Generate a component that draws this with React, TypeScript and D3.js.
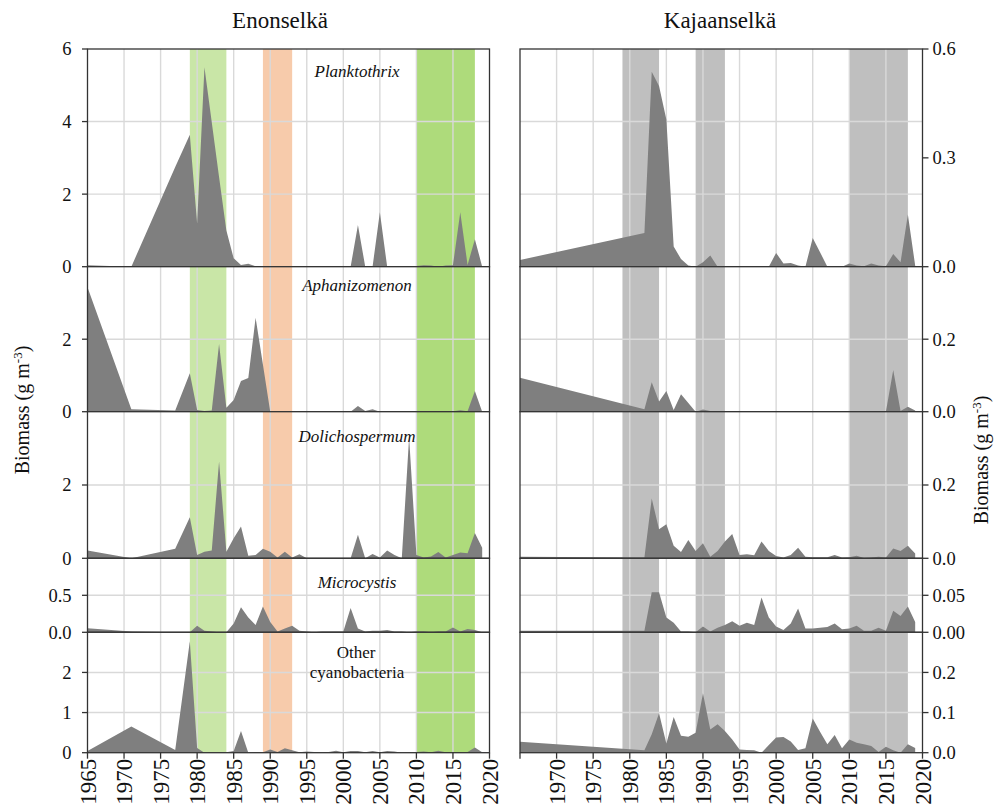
import React from "react";
import * as d3 from "d3";

// ---------- DATA ----------
const yearsEno = [1965, 1971, 1977, 1979, 1980, 1981, 1982, 1983, 1984, 1985, 1986, 1987, 1988, 1989, 1990, 1991, 1992, 1993, 1994, 1995, 1996, 1997, 1998, 1999, 2000, 2001, 2002, 2003, 2004, 2005, 2006, 2007, 2008, 2009, 2010, 2011, 2012, 2013, 2014, 2015, 2016, 2017, 2018, 2019];
const yearsKaj = [1965, 1982, 1983, 1984, 1985, 1986, 1987, 1988, 1989, 1990, 1991, 1992, 1993, 1994, 1995, 1996, 1997, 1998, 1999, 2000, 2001, 2002, 2003, 2004, 2005, 2006, 2007, 2008, 2009, 2010, 2011, 2012, 2013, 2014, 2015, 2016, 2017, 2018, 2019];

const enoPlanktothrix = [0.04, 0, 2.75, 3.64, 1.19, 5.5, 3.98, 2.47, 1.0, 0.23, 0.05, 0.08, 0.01, 0, 0.02, 0.01, 0.02, 0, 0, 0, 0, 0, 0, 0, 0, 0, 1.15, 0, 0, 1.5, 0, 0, 0.02, 0.01, 0.02, 0.04, 0.03, 0, 0.03, 0.04, 1.5, 0.05, 0.76, 0];
const enoAphanizomenon = [3.43, 0.07, 0.03, 1.06, 0.05, 0.02, 0.03, 1.87, 0.11, 0.32, 0.85, 0.93, 2.59, 1.3, 0, 0, 0, 0, 0, 0, 0, 0, 0, 0, 0, 0, 0.16, 0.02, 0.07, 0, 0, 0, 0, 0, 0, 0, 0, 0.01, 0.02, 0.01, 0.04, 0.01, 0.57, 0];
const enoDolichospermum = [0.21, 0, 0.26, 1.12, 0.09, 0.18, 0.21, 2.64, 0.18, 0.55, 0.87, 0.07, 0.09, 0.26, 0.18, 0.02, 0.18, 0.02, 0.11, 0, 0, 0.01, 0.01, 0, 0, 0, 0.64, 0, 0.12, 0.02, 0.21, 0.09, 0, 3.3, 0.09, 0.02, 0.05, 0.17, 0.02, 0.09, 0.16, 0.14, 0.69, 0.29];
const enoMicrocystis = [0.055, 0.01, 0, 0, 0.09, 0.02, 0.01, 0, 0, 0.12, 0.34, 0.2, 0.1, 0.35, 0.14, 0.01, 0.05, 0.09, 0.02, 0.01, 0, 0.01, 0.01, 0.01, 0.01, 0.33, 0.05, 0.01, 0.02, 0.02, 0.03, 0.01, 0.01, 0, 0.01, 0.01, 0, 0.01, 0.01, 0.065, 0.01, 0.045, 0.03, 0];
const enoOther = [0.04, 0.65, 0.07, 2.78, 0.12, 0, 0.01, 0.01, 0.01, 0.04, 0.54, 0, 0.02, 0.01, 0.08, 0.02, 0.11, 0.06, 0.01, 0.03, 0.02, 0.01, 0.02, 0.05, 0.01, 0.04, 0.04, 0.01, 0.04, 0.01, 0.04, 0.03, 0, 0.01, 0.02, 0.03, 0.01, 0.05, 0.01, 0.01, 0.01, 0.02, 0.13, 0.01];

const kajPlanktothrix = [0.0185, 0.093, 0.537, 0.498, 0.406, 0.056, 0.021, 0.003, 0, 0.012, 0.031, 0, 0, 0, 0, 0, 0, 0, 0, 0.038, 0.009, 0.01, 0.003, 0, 0.079, 0.04, 0, 0, 0, 0.009, 0.003, 0.001, 0.009, 0.003, 0.001, 0.035, 0.012, 0.144, 0.003];
const kajAphanizomenon = [0.094, 0.007, 0.081, 0.028, 0.057, 0.005, 0.048, 0.024, 0, 0.006, 0.002, 0, 0, 0, 0, 0, 0, 0, 0, 0, 0, 0, 0, 0, 0, 0, 0, 0, 0, 0, 0, 0, 0, 0, 0, 0.115, 0.002, 0.014, 0.003];
const kajDolichospermum = [0.004, 0.002, 0.163, 0.079, 0.093, 0.034, 0.017, 0.05, 0.02, 0.041, 0.004, 0.02, 0.046, 0.066, 0.009, 0.011, 0.008, 0.046, 0.02, 0.006, 0.002, 0.009, 0.029, 0.004, 0.003, 0.003, 0.003, 0.009, 0.002, 0.003, 0.007, 0.001, 0.002, 0.004, 0.002, 0.027, 0.02, 0.034, 0.013];
const kajMicrocystis = [0.002, 0.002, 0.054, 0.054, 0.02, 0.013, 0.001, 0.001, 0, 0.008, 0.001, 0.006, 0.01, 0.015, 0.009, 0.013, 0.01, 0.047, 0.02, 0.008, 0.003, 0.012, 0.032, 0.005, 0.005, 0.006, 0.007, 0.012, 0.004, 0.005, 0.009, 0.002, 0.002, 0.006, 0.002, 0.029, 0.022, 0.035, 0.014];
const kajOther = [0.027, 0.006, 0.046, 0.098, 0.023, 0.089, 0.042, 0.04, 0.05, 0.148, 0.058, 0.071, 0.054, 0.033, 0.008, 0.007, 0.006, 0, 0.019, 0.038, 0.039, 0.028, 0.007, 0.011, 0.085, 0.052, 0.021, 0.044, 0.011, 0.033, 0.025, 0.021, 0.017, 0.002, 0.015, 0.006, 0, 0.021, 0.012];

const enoMax = [6, 4, 4, 1, 3];
const kajMax = [0.6, 0.4, 0.4, 0.1, 0.3];
const enoTicks = [[0, 2, 4, 6], [0, 2], [0, 2], [0, 0.5], [0, 1, 2]];
const enoTickLabels = [["0", "2", "4", "6"], ["0", "2"], ["0", "2"], ["0.0", "0.5"], ["0", "1", "2"]];
const enoGrid = [[2, 4], [2], [2], [0.5], [1, 2]];
const kajTicks = [[0, 0.3, 0.6], [0, 0.2], [0, 0.2], [0, 0.05], [0, 0.1, 0.2]];
const kajTickLabels = [["0.0", "0.3", "0.6"], ["0.0", "0.2"], ["0.0", "0.2"], ["0.00", "0.05"], ["0.0", "0.1", "0.2"]];
const kajGrid = [[0.2, 0.4], [0.2], [0.2], [0.05], [0.1, 0.2]];

const xGridYears = [1970, 1975, 1980, 1985, 1990, 1995, 2000, 2005, 2010, 2015];
const xTickYears = [1965, 1970, 1975, 1980, 1985, 1990, 1995, 2000, 2005, 2010, 2015, 2020];
const enoXLabels = ["1965", "1970", "1975", "1980", "1985", "1990", "1995", "2000", "2005", "2010", "2015", "2020"];
const kajXLabels = ["", "1970", "1975", "1980", "1985", "1990", "1995", "2000", "2005", "2010", "2015", "2020"];

const enoBands = [[1979, 1984], [1989, 1993], [2010, 2018]];
const enoBandColors = ["#c9e6a7", "#f7cbab", "#aedb7b"];
const kajBands = [[1979, 1984], [1989, 1993], [2010, 2018]];
const kajBandColors = ["#bfbfbf", "#bfbfbf", "#bfbfbf"];

const species = ["Planktothrix", "Aphanizomenon", "Dolichospermum", "Microcystis", "Other cyanobacteria"];

// ---------- LAYOUT ----------
const W = 996, H = 807;
const panelY: [number, number][] = [[49, 266.7], [266.7, 411.7], [411.7, 558.3], [558.3, 632.3], [632.3, 752.7]];
const labelDy = [27.7, 24.3, 30, 30, 26];
const FONT = "Liberation Serif";
const GRID = "#d9d9d9";
const FRAME = "#333333";
const AREA = "#7f7f7f";

const xEno = d3.scaleLinear().domain([1965, 2020]).range([87.5, 489.5]);
const xKaj = d3.scaleLinear().domain([1965, 2020]).range([520, 922.5]);

type PanelProps = {
  idx: number;
  x: d3.ScaleLinear<number, number>;
  years: number[];
  values: number[];
  max: number;
  ticks: number[];
  tickLabels: string[];
  grid: number[];
  bands: number[][];
  bandColors: string[];
  side: "left" | "right";
  label?: string;
};

function Panel(p: PanelProps) {
  const [top, bottom] = panelY[p.idx];
  const y = d3.scaleLinear().domain([0, p.max]).range([bottom, top]);
  const [x0, x1] = p.x.range();
  const area = d3
    .area<number>()
    .x((_, i) => p.x(p.years[i]))
    .y0(y(0))
    .y1((d) => y(Math.min(d, p.max)));
  const clipId = `clip-${p.side}-${p.idx}`;
  return (
    <g>
      <defs>
        <clipPath id={clipId}>
          <rect x={x0} y={top} width={x1 - x0} height={bottom - top} />
        </clipPath>
      </defs>
      <rect x={x0} y={top} width={x1 - x0} height={bottom - top} fill="#fff" />
      {p.bands.map((b, i) => (
        <rect key={i} x={p.x(b[0])} y={top} width={p.x(b[1]) - p.x(b[0])} height={bottom - top} fill={p.bandColors[i]} />
      ))}
      {xGridYears.map((yr) => (
        <line key={yr} x1={p.x(yr)} x2={p.x(yr)} y1={top} y2={bottom} stroke={GRID} strokeWidth={1.4} />
      ))}
      {p.grid.map((v) => (
        <line key={v} x1={x0} x2={x1} y1={y(v)} y2={y(v)} stroke={GRID} strokeWidth={1.4} />
      ))}
      <path d={area(p.values) || ""} fill={AREA} clipPath={`url(#${clipId})`} />
      <rect x={x0} y={top} width={x1 - x0} height={bottom - top} fill="none" stroke={FRAME} strokeWidth={1.3} />
      {p.ticks.map((v, i) => {
        const yy = y(v);
        if (p.side === "left") {
          return (
            <g key={v}>
              <line x1={x0 - 5.5} x2={x0} y1={yy} y2={yy} stroke={FRAME} strokeWidth={1.3} />
              <text x={x0 - 16} y={yy} dy="0.35em" textAnchor="end" fontSize={18.5} fontFamily={FONT} fill="#111">
                {p.tickLabels[i]}
              </text>
            </g>
          );
        }
        return (
          <g key={v}>
            <line x1={x1} x2={x1 + 6} y1={yy} y2={yy} stroke={FRAME} strokeWidth={1.3} />
            <text x={x1 + 10} y={yy} dy="0.35em" textAnchor="start" fontSize={18.5} fontFamily={FONT} fill="#111">
              {p.tickLabels[i]}
            </text>
          </g>
        );
      })}
      {p.label && p.label !== "Other cyanobacteria" && (
        <text x={357} y={top + labelDy[p.idx]} textAnchor="middle" fontSize={17} fontStyle="italic" fontFamily={FONT} fill="#111">
          {p.label}
        </text>
      )}
      {p.label === "Other cyanobacteria" && (
        <g>
          <text x={356} y={top + 26} textAnchor="middle" fontSize={17} fontFamily={FONT} fill="#111">Other</text>
          <text x={357} y={top + 46} textAnchor="middle" fontSize={17} fontFamily={FONT} fill="#111">cyanobacteria</text>
        </g>
      )}
    </g>
  );
}

function XAxis({ x, labels }: { x: d3.ScaleLinear<number, number>; labels: string[] }) {
  const base = panelY[4][1];
  return (
    <g>
      {xTickYears.map((yr, i) => (
        <g key={yr}>
          <line x1={x(yr)} x2={x(yr)} y1={base} y2={base + 6} stroke={FRAME} strokeWidth={1.3} />
          {labels[i] && (
            <text
              transform={`translate(${x(yr) + 8},${base + 6}) rotate(-90)`}
              textAnchor="end"
              fontSize={23}
              fontFamily={FONT}
              fill="#111"
            >
              {labels[i]}
            </text>
          )}
        </g>
      ))}
    </g>
  );
}

function YLabel({ cx, cy }: { cx: number; cy: number }) {
  return (
    <text transform={`translate(${cx},${cy}) rotate(-90)`} textAnchor="middle" fontSize={20} fontFamily={FONT} fill="#111">
      Biomass (g m
      <tspan fontSize={13} dy={-7}>-3</tspan>
      <tspan dy={7}>)</tspan>
    </text>
  );
}

export default function App() {
  const enoSeries = [enoPlanktothrix, enoAphanizomenon, enoDolichospermum, enoMicrocystis, enoOther];
  const kajSeries = [kajPlanktothrix, kajAphanizomenon, kajDolichospermum, kajMicrocystis, kajOther];
  return (
    <svg width={W} height={H} style={{ position: "absolute", left: 0, top: 0, background: "#fff" }}>
      <rect width={W} height={H} fill="#fff" />
      <text x={280} y={28} textAnchor="middle" fontSize={23} fontFamily={FONT} fill="#111">Enonselkä</text>
      <text x={720} y={28} textAnchor="middle" fontSize={23} fontFamily={FONT} fill="#111">Kajaanselkä</text>
      {enoSeries.map((vals, i) => (
        <Panel
          key={`e${i}`}
          idx={i}
          x={xEno}
          years={yearsEno}
          values={vals}
          max={enoMax[i]}
          ticks={enoTicks[i]}
          tickLabels={enoTickLabels[i]}
          grid={enoGrid[i]}
          bands={enoBands}
          bandColors={enoBandColors}
          side="left"
          label={species[i]}
        />
      ))}
      {kajSeries.map((vals, i) => (
        <Panel
          key={`k${i}`}
          idx={i}
          x={xKaj}
          years={yearsKaj}
          values={vals}
          max={kajMax[i]}
          ticks={kajTicks[i]}
          tickLabels={kajTickLabels[i]}
          grid={kajGrid[i]}
          bands={kajBands}
          bandColors={kajBandColors}
          side="right"
        />
      ))}
      <XAxis x={xEno} labels={enoXLabels} />
      <XAxis x={xKaj} labels={kajXLabels} />
      <YLabel cx={29} cy={410} />
      <YLabel cx={988} cy={460} />
    </svg>
  );
}
